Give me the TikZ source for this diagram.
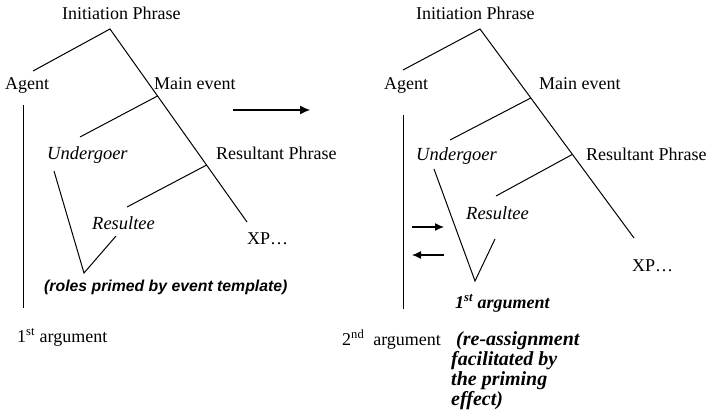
\documentclass[tikz,border=0pt]{standalone}
\usepackage{fontspec}
\setmainfont{Liberation Serif}
\setsansfont{Liberation Sans}
\usetikzlibrary{arrows.meta,calc}
\begin{document}
\begin{tikzpicture}[x=1pt,y=-1pt,
  lbl/.style={anchor=base west, inner sep=0pt, font=\fontsize{18}{20}\selectfont},
  role/.style={anchor=base west, inner sep=0pt, font=\fontsize{18.5}{20}\selectfont\itshape},
  prime/.style={anchor=base west, inner sep=0pt, font=\fontsize{15.8}{18}\selectfont\sffamily\bfseries\itshape},
  remark/.style={anchor=base west, inner sep=0pt, font=\fontsize{20}{20}\selectfont\bfseries\itshape},
  branch/.style={line width=1pt},
  bigarrow/.style={line width=1.2pt, -{Latex[length=10pt,width=9pt]}},
  smallarrow/.style={line width=1.2pt, -{Latex[length=9pt,width=8pt]}}]
\useasboundingbox (0,0) rectangle (711,417);

% ---------- left tree: roles primed ----------
\node[lbl]  (initL)  at (62,20)   {Initiation Phrase};
\node[lbl]  (agentL) at (5,90)    {Agent};
\node[lbl]  (mainL)  at (154,90)  {Main event};
\node[role] (undL)   at (47,159)  {Undergoer};
\node[lbl]  (resPL)  at (216,159) {Resultant Phrase};
\node[role] (resL)   at (92,229)  {Resultee};
\node[lbl]  (xpL)    at (247,244) {XP…};
\node[prime] (primeL) at (44,291) {(roles primed by event template)};
\node[lbl]  (argL)   at (17,342)  {1\textsuperscript{st} argument};

\coordinate (topL)  at (110,29);
\coordinate (agL)   at (33,71);
\coordinate (endL)  at (247,222);
\coordinate (meL)   at ($(topL)!0.347!(endL)$);
\coordinate (unL)   at (80,137);
\coordinate (rpL)   at ($(topL)!0.705!(endL)$);
\coordinate (reL)   at (127,207);
\coordinate (ugL)   at (54,171);
\coordinate (vL)    at (84,273);
\coordinate (rtL)   at (116,236);
\coordinate (a1L)   at (23,105);
\coordinate (a2L)   at (23,308);

\draw[branch] (agL) -- (topL) -- (endL);
\draw[branch] (meL) -- (unL);
\draw[branch] (rpL) -- (reL);
\draw[branch] (ugL) -- (vL) -- (rtL);
\draw[branch] (a1L) -- (a2L);

% ---------- transition ----------
\coordinate (goA) at (233,110);
\coordinate (goB) at (310,110);
\draw[bigarrow] (goA) -- (goB);

% ---------- right tree: re-assignment ----------
\node[lbl]  (initR)  at (416,20)  {Initiation Phrase};
\node[lbl]  (agentR) at (384,90)  {Agent};
\node[lbl]  (mainR)  at (539,90)  {Main event};
\node[role] (undR)   at (416,160) {Undergoer};
\node[lbl]  (resPR)  at (586,160) {Resultant Phrase};
\node[role] (resR)   at (466,219) {Resultee};
\node[lbl]  (xpR)    at (632,271) {XP…};
\node[anchor=base west, inner sep=0pt, font=\fontsize{18}{20}\selectfont\bfseries\itshape]
            (argR1)  at (455,308) {1\textsuperscript{st} argument};
\node[lbl]  (argR2)  at (342,345) {2\textsuperscript{nd}\ \ argument};
\node[remark] (reR1) at (456,345) {(re-assignment};
\node[remark] (reR2) at (451,365) {facilitated by};
\node[remark] (reR3) at (451,385) {the priming};
\node[remark] (reR4) at (451,405) {effect)};

\coordinate (topR)  at (480,29);
\coordinate (agR)   at (403,70);
\coordinate (endR)  at (634,238);
\coordinate (meR)   at ($(topR)!0.33!(endR)$);
\coordinate (unR)   at (450,140);
\coordinate (rpR)   at ($(topR)!0.60!(endR)$);
\coordinate (reRb)  at (496,196);
\coordinate (ugR)   at (434,169);
\coordinate (vR)    at (475,281);
\coordinate (rtR)   at (495,239);
\coordinate (a1R)   at (403,115);
\coordinate (a2R)   at (403,309);

\draw[branch] (agR) -- (topR) -- (endR);
\draw[branch] (meR) -- (unR);
\draw[branch] (rpR) -- (reRb);
\draw[branch] (ugR) -- (vR) -- (rtR);
\draw[branch] (a1R) -- (a2R);

\coordinate (inA)  at (412,227);
\coordinate (inB)  at (444,227);
\coordinate (outA) at (444,255);
\coordinate (outB) at (412,255);
\draw[smallarrow] (inA) -- (inB);
\draw[smallarrow] (outA) -- (outB);
\end{tikzpicture}
\end{document}
